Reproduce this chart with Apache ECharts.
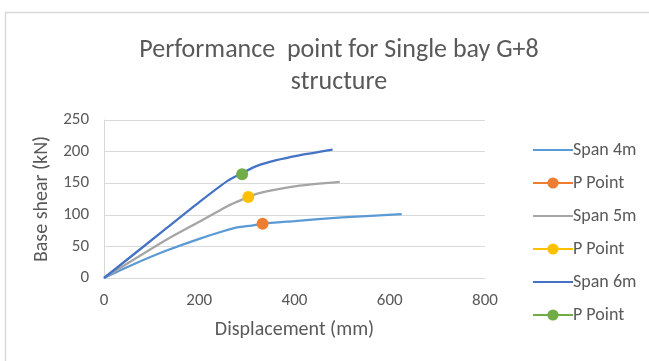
<!DOCTYPE html>
<html>
<head>
<meta charset="utf-8">
<script src="https://cdn.jsdelivr.net/npm/echarts@6/dist/echarts.min.js"></script>
<style>
  html, body { margin: 0; padding: 0; background: #fff; }
  #chart { width: 649px; height: 361px; }
</style>
</head>
<body>
<div id="chart"></div>
<script>
// Pushover curves (displacement mm, base shear kN) for three bay spans
const span4m = [[0, 0], [60, 21], [130, 43], [200, 62], [250, 74], [280, 80], [310, 83], [333, 86], [400, 90], [500, 96], [625, 101]];
const span5m = [[0, 0], [130, 60], [200, 89], [260, 114], [290, 124], [320, 133], [355, 139], [411, 146], [495, 152]];
const span6m = [[0, 0], [130, 78], [200, 120], [260, 154], [290, 166], [320, 177], [360, 186], [410, 194], [480, 203]];

// Performance points
const pPoint4m = [[333, 86]];
const pPoint5m = [[303, 128]];
const pPoint6m = [[290, 164]];

const xTicks = [0, 200, 400, 600, 800];
const yTicks = [0, 50, 100, 150, 200, 250];

const FONT = 'Carlito, Calibri, "Open Sans", sans-serif';
const TEXT = '#595959';

const chart = echarts.init(document.getElementById('chart'), null, { renderer: 'canvas' });

function curve(name, data, color) {
  return {
    name, type: 'line', data, smooth: 0.2,
    symbol: 'none', lineStyle: { color, width: 2.25 }, itemStyle: { color },
    z: 2
  };
}
function point(name, data, color) {
  return {
    name, type: 'line', data, symbol: 'circle', symbolSize: 12,
    lineStyle: { color, width: 2.25 }, itemStyle: { color }, z: 3
  };
}

// Curves show only a line in the legend; points show line + marker
const lineOnly = { itemStyle: { opacity: 0 } };

chart.setOption({
  animation: false,
  backgroundColor: '#ffffff',
  graphic: [{
    type: 'rect', silent: true, z: -1,
    shape: { x: 5.5, y: 12.5, width: 700, height: 400 },
    style: { fill: 'none', stroke: '#D9D9D9', lineWidth: 1.5 }
  }],
  title: {
    text: 'Performance  point for Single bay G+8\nstructure',
    left: 334, top: 29, textAlign: 'center',
    textStyle: { fontFamily: FONT, fontSize: 26, fontWeight: 'normal', color: TEXT, lineHeight: 32 }
  },
  legend: {
    orient: 'vertical', left: 527, top: 136,
    itemWidth: 40, itemHeight: 14, itemGap: 15,
    textStyle: { fontFamily: FONT, fontSize: 18, color: TEXT, padding: [0, 0, 0, -5] },
    data: [
      Object.assign({ name: 'Span 4m' }, lineOnly), { name: 'P Point' },
      Object.assign({ name: 'Span 5m' }, lineOnly), { name: 'P Point ' },
      Object.assign({ name: 'Span 6m' }, lineOnly), { name: 'P Point  ' }
    ],
    formatter: n => n.trim()
  },
  grid: { left: 104, right: 164, top: 120, bottom: 83 },
  xAxis: {
    type: 'value', min: xTicks[0], max: xTicks[xTicks.length - 1], interval: 200,
    name: 'Displacement (mm)', nameLocation: 'middle', nameGap: 42,
    nameTextStyle: { fontFamily: FONT, fontSize: 20, color: TEXT },
    axisLine: { show: true, lineStyle: { color: '#D9D9D9', width: 1 } },
    axisTick: { show: false },
    axisLabel: { fontFamily: FONT, fontSize: 17, color: TEXT, margin: 14 },
    splitLine: { show: false }
  },
  yAxis: {
    type: 'value', min: yTicks[0], max: yTicks[yTicks.length - 1], interval: 50,
    name: 'Base shear (kN)', nameLocation: 'middle', nameGap: 52,
    nameTextStyle: { fontFamily: FONT, fontSize: 20, color: TEXT },
    axisLine: { show: true, lineStyle: { color: '#D9D9D9', width: 1 } },
    axisTick: { show: false },
    axisLabel: { fontFamily: FONT, fontSize: 17, color: TEXT, margin: 15 },
    splitLine: { show: true, lineStyle: { color: '#D9D9D9', width: 1 } }
  },
  series: [
    curve('Span 4m', span4m, '#5B9BD5'),
    point('P Point', pPoint4m, '#ED7D31'),
    curve('Span 5m', span5m, '#A5A5A5'),
    point('P Point ', pPoint5m, '#FFC000'),
    curve('Span 6m', span6m, '#4472C4'),
    point('P Point  ', pPoint6m, '#70AD47')
  ]
});
</script>
</body>
</html>
